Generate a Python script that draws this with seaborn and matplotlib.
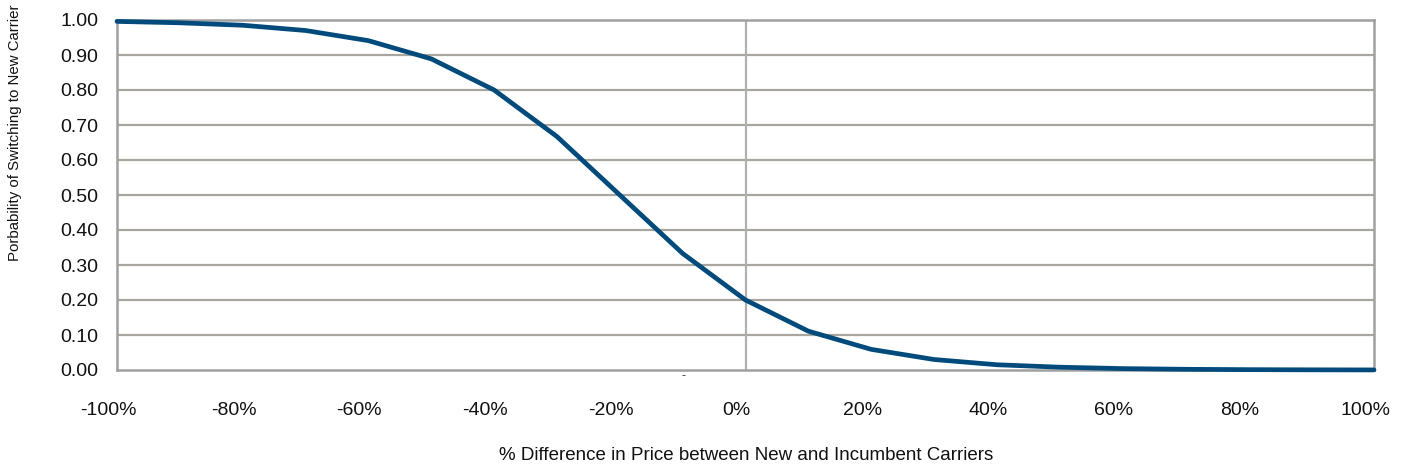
import matplotlib
matplotlib.use("Agg")
import matplotlib.pyplot as plt
import matplotlib.transforms as mtransforms
from matplotlib.ticker import FuncFormatter
import seaborn as sns
import pandas as pd

# Price difference (%) between new and incumbent carriers
price_diff = [-100, -90, -80, -70, -60, -50, -40, -30, -20, -10,
              0, 10, 20, 30, 40, 50, 60, 70, 80, 90, 100]
# Probability that a customer switches to the new carrier
switch_prob = [0.996, 0.992, 0.985, 0.970, 0.941, 0.889, 0.800, 0.667, 0.500, 0.333,
               0.200, 0.111, 0.059, 0.030, 0.015, 0.008, 0.004, 0.002, 0.001, 0.0005, 0.0002]

x_ticks = [-100, -80, -60, -40, -20, 0, 20, 40, 60, 80, 100]
y_ticks = [0.0, 0.1, 0.2, 0.3, 0.4, 0.5, 0.6, 0.7, 0.8, 0.9, 1.0]

df = pd.DataFrame({"diff": price_diff, "prob": switch_prob})

sns.set_theme(style="white")
plt.rcParams["font.family"] = ["Liberation Sans", "DejaVu Sans"]

W, H = 1404, 468
fig = plt.figure(figsize=(W / 100, H / 100), dpi=100)
ax = fig.add_axes([117 / W, 1 - 370 / H, 1257 / W, 350 / H])

grid_col = "#A9A59F"
frame_col = "#A0A0A0"
line_col = "#004B7B"
text_col = "#111111"

# horizontal grid and a reference line at zero difference
for y in y_ticks[1:-1]:
    ax.axhline(y, color=grid_col, lw=1.6, zorder=1)
ax.axvline(0, color="#B0B0B0", lw=1.6, zorder=1)

sns.lineplot(data=df, x="diff", y="prob", ax=ax, color=line_col, lw=3.4,
             zorder=5, clip_on=False)

ax.set_xlim(-100, 100)
ax.set_ylim(0, 1)
ax.set_xticks(x_ticks)
ax.set_yticks(y_ticks)
ax.xaxis.set_major_formatter(FuncFormatter(lambda v, p: f"{v:.0f}%"))
ax.yaxis.set_major_formatter(FuncFormatter(lambda v, p: f"{v:.2f}"))
ax.tick_params(axis="both", length=0, labelsize=14, colors=text_col)
ax.tick_params(axis="x", pad=23)
ax.tick_params(axis="y", pad=13.5)

shift = mtransforms.ScaledTranslation(-9 / 100, 0, fig.dpi_scale_trans)
for lbl in ax.get_xticklabels():
    lbl.set_transform(lbl.get_transform() + shift)

for side in ["left", "right", "top", "bottom"]:
    ax.spines[side].set_visible(True)
    ax.spines[side].set_color(frame_col)
    ax.spines[side].set_linewidth(1.8)

ax.set_xlabel("")
ax.set_ylabel("")
fig.text(746 / W, 1 - 455 / H,
         "% Difference in Price between New and Incumbent Carriers",
         ha="center", va="center", fontsize=13.5, color=text_col)
fig.text(15 / W, 1 - 133 / H, "Porbability of Switching to New Carrier",
         ha="center", va="center", rotation=90, fontsize=10.8, color=text_col)

ax.text(0.451, -0.016, "-", transform=ax.transAxes, ha="center", va="center",
        fontsize=9, color="#333333")

fig.savefig("out.png", dpi=100, facecolor="white")
